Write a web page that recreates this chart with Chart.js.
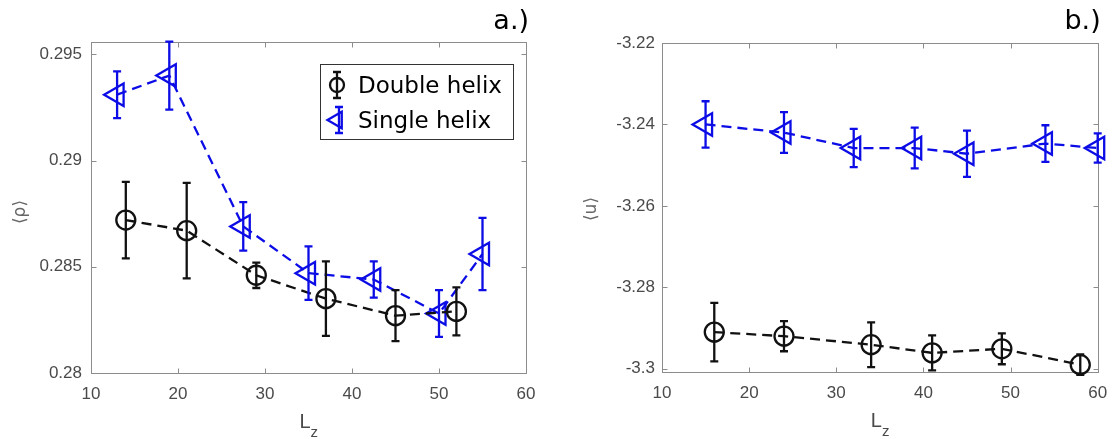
<!DOCTYPE html>
<html><head><meta charset="utf-8">
<script src="https://cdn.jsdelivr.net/npm/chart.js@4.4.1/dist/chart.umd.min.js"></script>
<style>
html,body{margin:0;padding:0;background:#fff;}
#wrap{position:relative;width:1113px;height:439px;overflow:hidden;background:#fff;}
canvas{position:absolute;top:0;}
</style></head><body>
<div id="wrap">
<canvas id="ca" width="556" height="439" style="left:0px"></canvas>
<canvas id="cb" width="557" height="439" style="left:556px"></canvas>
</div>
<script>
// ---------- data ----------
const seriesNames = ['Double helix', 'Single helix'];
const xTicks = [10, 20, 30, 40, 50, 60];
const xTickLabels = ['10', '20', '30', '40', '50', '60'];

// panel a: <rho> vs Lz
const rhoTicks = [0.28, 0.285, 0.29, 0.295];
const rhoTickLabels = ['0.28', '0.285', '0.29', '0.295'];
const rhoDoubleLz  = [14, 21, 29, 37, 45, 52];
const rhoDouble    = [0.2872, 0.2867, 0.2846, 0.2835, 0.2827, 0.2829];
const rhoDoubleErr = [0.0018, 0.00225, 0.0006, 0.00175, 0.0012, 0.00113];
const rhoSingleLz  = [13, 19, 27.5, 35, 42.5, 50, 55];
const rhoSingle    = [0.2931, 0.2940, 0.2869, 0.2847, 0.2844, 0.2828, 0.2856];
const rhoSingleErr = [0.0011, 0.0016, 0.00114, 0.00126, 0.00085, 0.0011, 0.0017];

// panel b: <u> vs Lz
const uTicks = [-3.3, -3.28, -3.26, -3.24, -3.22];
const uTickLabels = ['-3.3', '-3.28', '-3.26', '-3.24', '-3.22'];
const uDoubleLz  = [16, 24, 34, 41, 49, 58];
const uDouble    = [-3.2910, -3.2920, -3.2941, -3.2961, -3.2951, -3.2990];
const uDoubleErr = [0.0072, 0.0037, 0.0055, 0.0043, 0.0038, 0.0025];
const uSingleLz  = [15, 24, 32, 39, 45, 54, 60];
const uSingle    = [-3.2400, -3.2420, -3.2458, -3.2458, -3.2472, -3.2447, -3.2458];
const uSingleErr = [0.0057, 0.0050, 0.0047, 0.0050, 0.0057, 0.0045, 0.0036];

// ---------- styles ----------
const BLACK = '#111111';
const BLUE = '#0c0ce6';
const TICK_COLOR = '#4a4a4a';
const FRAME_COLOR = '#8c8c8c';
const TICK_FONT = { family: '"Liberation Sans", Arial, sans-serif', size: 17 };
const LW = 2.3;

const errorBarPlugin = {
  id: 'errorBars',
  afterDatasetsDraw(chart) {
    const ctx = chart.ctx, xs = chart.scales.x, ys = chart.scales.y;
    ctx.save();
    ctx.setLineDash([]);
    ctx.lineWidth = LW;
    chart.data.datasets.forEach((ds) => {
      ctx.strokeStyle = ds.borderColor;
      ds.data.forEach((p, i) => {
        const e = ds.errors[i];
        const px = xs.getPixelForValue(p.x);
        const y1 = ys.getPixelForValue(p.y + e), y2 = ys.getPixelForValue(p.y - e);
        ctx.beginPath();
        ctx.moveTo(px, y1); ctx.lineTo(px, y2);
        ctx.moveTo(px - 4, y1); ctx.lineTo(px + 4, y1);
        ctx.moveTo(px - 4, y2); ctx.lineTo(px + 4, y2);
        ctx.stroke();
      });
    });
    ctx.restore();
  }
};

const framePlugin = {
  id: 'frame',
  beforeDatasetsDraw(chart) {
    const ctx = chart.ctx, a = chart.chartArea, xs = chart.scales.x, ys = chart.scales.y;
    ctx.save();
    ctx.strokeStyle = FRAME_COLOR;
    ctx.lineWidth = 1;
    ctx.setLineDash([]);
    const L = Math.round(a.left) + 0.5, R = Math.round(a.right) + 0.5;
    const T = Math.round(a.top) + 0.5, B = Math.round(a.bottom) + 0.5;
    ctx.strokeRect(L, T, R - L, B - T);
    ctx.beginPath();
    xs.ticks.forEach(t => {
      const x = Math.round(xs.getPixelForValue(t.value)) + 0.5;
      ctx.moveTo(x, B); ctx.lineTo(x, B - 5);
      ctx.moveTo(x, T); ctx.lineTo(x, T + 5);
    });
    ys.ticks.forEach(t => {
      const y = Math.round(ys.getPixelForValue(t.value)) + 0.5;
      ctx.moveTo(L, y); ctx.lineTo(L + 5, y);
      ctx.moveTo(R, y); ctx.lineTo(R - 5, y);
    });
    ctx.stroke();
    ctx.restore();
  }
};

const annotPlugin = {
  id: 'annot',
  afterDraw(chart) {
    const o = chart.options.plugins.annot;
    if (!o) return;
    const ctx = chart.ctx, a = chart.chartArea;
    ctx.save();
    // y-axis title (rotated)
    ctx.fillStyle = '#666666';
    ctx.font = '17px "DejaVu Sans", sans-serif';
    ctx.textAlign = 'center'; ctx.textBaseline = 'middle';
    ctx.translate(o.yTitleX, o.yTitleY);
    ctx.rotate(-Math.PI / 2);
    ctx.fillText(o.yTitle, 0, 0);
    ctx.setTransform(1, 0, 0, 1, 0, 0);
    // x-axis title L_z
    const cx = (a.left + a.right) / 2;
    ctx.fillStyle = TICK_COLOR;
    ctx.textAlign = 'left'; ctx.textBaseline = 'alphabetic';
    ctx.font = '20px "Liberation Sans", Arial, sans-serif';
    const lw = ctx.measureText('L').width;
    ctx.fillText('L', cx - 9, a.bottom + 55);
    ctx.font = '15px "Liberation Sans", Arial, sans-serif';
    ctx.fillText('z', cx - 9 + lw, a.bottom + 64);
    // panel label
    ctx.fillStyle = '#000000';
    ctx.font = '27px "DejaVu Sans", sans-serif';
    ctx.textAlign = 'right';
    ctx.fillText(o.panel, a.right + 3, 29);
    // legend
    if (o.legend) {
      const bx = a.right - 206, by = a.top + 22, bw = 193, bh = 75;
      ctx.fillStyle = '#ffffff';
      ctx.fillRect(bx, by, bw, bh);
      ctx.strokeStyle = '#333333'; ctx.lineWidth = 1;
      ctx.strokeRect(Math.round(bx) + 0.5, Math.round(by) + 0.5, bw, bh);
      chart.data.datasets.forEach((ds, i) => {
        const cy = by + 21 + i * 35, ix = bx + 17;
        ctx.strokeStyle = ds.borderColor;
        ctx.fillStyle = 'rgba(0,0,0,0)';
        ctx.lineWidth = LW;
        ctx.setLineDash([]);
        const r = i === 0 ? 7 : 9.5;
        Chart.helpers.drawPoint(ctx, {
          pointStyle: ds.pointStyle, rotation: ds.pointRotation || 0,
          radius: r, borderWidth: LW
        }, ix, cy);
        const ex = i === 0 ? ix : ix + 2;
        ctx.beginPath();
        ctx.moveTo(ex, cy - 13); ctx.lineTo(ex, cy + 13);
        ctx.moveTo(ex - 4, cy - 13); ctx.lineTo(ex + 4, cy - 13);
        ctx.moveTo(ex - 4, cy + 13); ctx.lineTo(ex + 4, cy + 13);
        ctx.stroke();
        ctx.fillStyle = '#000000';
        ctx.font = '23px "DejaVu Sans", sans-serif';
        ctx.textAlign = 'left'; ctx.textBaseline = 'alphabetic';
        ctx.fillText(ds.label, bx + 38, cy + 8);
      });
    }
    ctx.restore();
  }
};

function makePanel(id, c) {
  const mk = (name, xs, ys, es, color, style, radius) => ({
    label: name,
    data: xs.map((x, i) => ({ x: x, y: ys[i] })),
    errors: es,
    borderColor: color, borderWidth: LW, borderDash: [10, 6],
    pointStyle: style, pointRotation: style === 'triangle' ? -90 : 0,
    pointRadius: radius, pointBorderWidth: LW,
    pointBorderColor: color, pointBackgroundColor: 'rgba(0,0,0,0)',
    tension: 0, fill: false, clip: false
  });
  return new Chart(document.getElementById(id), {
    type: 'line',
    data: {
      datasets: [
        mk(seriesNames[0], c.dx, c.dy, c.de, BLACK, 'circle', 9.5),
        mk(seriesNames[1], c.sx, c.sy, c.se, BLUE, 'triangle', 13)
      ]
    },
    options: {
      responsive: false, animation: false, events: [],
      layout: { padding: c.pad },
      plugins: {
        legend: { display: false }, tooltip: { enabled: false },
        annot: c.annot
      },
      scales: {
        x: {
          type: 'linear', min: 10, max: 60,
          afterBuildTicks: s => { s.ticks = xTicks.map(v => ({ value: v })); },
          afterFit: s => { s.height = c.xh; s.paddingLeft = 0; s.paddingRight = 0; },
          grid: { display: false, drawTicks: false }, border: { display: false },
          ticks: { font: TICK_FONT, color: TICK_COLOR, padding: 11, maxRotation: 0, autoSkip: false,
                   callback: (v, i) => xTickLabels[i] }
        },
        y: {
          type: 'linear', min: c.ymin, max: c.ymax,
          afterBuildTicks: s => { s.ticks = c.yt.map(v => ({ value: v })); },
          afterFit: s => { s.width = c.yw; s.paddingTop = 0; s.paddingBottom = 0; },
          grid: { display: false, drawTicks: false }, border: { display: false },
          ticks: { font: TICK_FONT, color: TICK_COLOR, padding: c.ypad, autoSkip: false,
                   callback: (v, i) => c.ytl[i] }
        }
      }
    },
    plugins: [framePlugin, errorBarPlugin, annotPlugin]
  });
}

makePanel('ca', {
  dx: rhoDoubleLz, dy: rhoDouble, de: rhoDoubleErr,
  sx: rhoSingleLz, sy: rhoSingle, se: rhoSingleErr,
  ymin: 0.28, ymax: 0.29558, yt: rhoTicks, ytl: rhoTickLabels,
  pad: { left: 0, right: 30, top: 42, bottom: 0 }, xh: 66, yw: 91, ypad: 9,
  annot: { yTitle: '\u27E8\u03C1\u27E9', yTitleX: 21, yTitleY: 212, panel: 'a.)', legend: true }
});
makePanel('cb', {
  dx: uDoubleLz, dy: uDouble, de: uDoubleErr,
  sx: uSingleLz, sy: uSingle, se: uSingleErr,
  ymin: -3.3008, ymax: -3.22, yt: uTicks, ytl: uTickLabels,
  pad: { left: 0, right: 10, top: 43, bottom: 0 }, xh: 67, yw: 106, ypad: 7,
  annot: { yTitle: '\u27E8u\u27E9', yTitleX: 36, yTitleY: 209, panel: 'b.)', legend: false }
});
</script>
</body></html>
